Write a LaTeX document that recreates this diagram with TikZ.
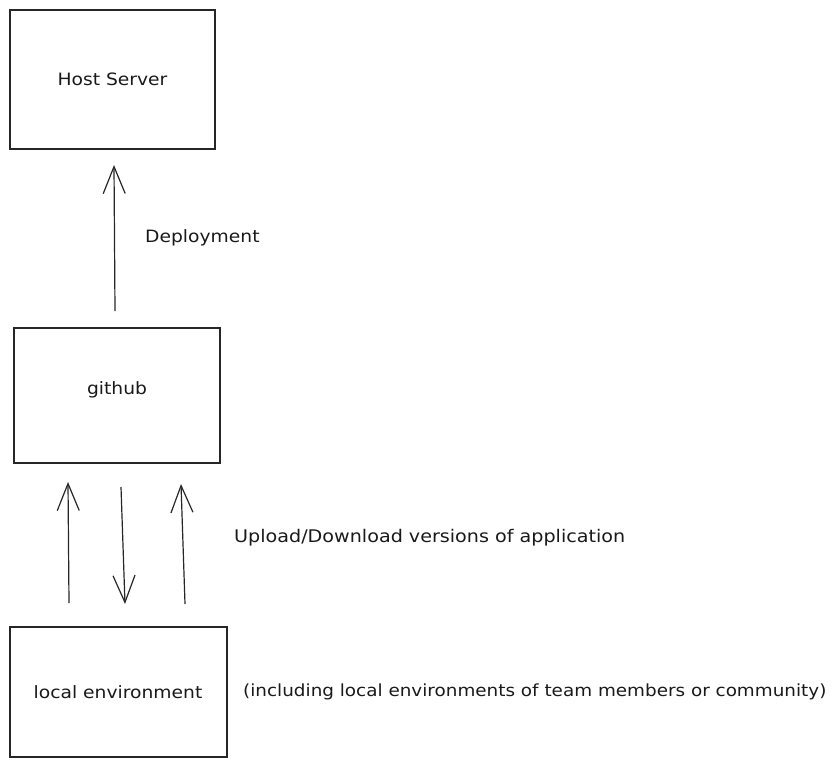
\documentclass[tikz,border=0pt]{standalone}
\usepackage{fontspec}
\setmainfont{DejaVu Sans}[FakeStretch=1.1]
\usetikzlibrary{arrows.meta}
\begin{document}
\begin{tikzpicture}[x=1pt,y=-1pt,
  box/.style={draw=black!85, line width=1.4pt},
  conn/.style={draw=black!85, line width=1.2pt, -{Straight Barb[length=27pt,width=22pt,line width=1.2pt]}},
  lbl/.style={font=\fontsize{17}{20}\selectfont, text=black!90, anchor=west, inner sep=0pt}]
\useasboundingbox (0,0) rectangle (838,768);
% boxes
\draw[box] (10,10) rectangle (215,149);
\node[lbl, anchor=center] (host) at (112.5,79.5) {Host Server};
\draw[box] (14,328) rectangle (220,463);
\node[lbl, anchor=center] (gh) at (117,390) {github};
\draw[box] (10,627) rectangle (227,757);
\node[lbl, anchor=center] (loc) at (118,692) {local environment};
% arrow coordinates
\coordinate (d1) at (115,311);
\coordinate (d2) at (114,165);
\coordinate (a1s) at (69,603);
\coordinate (a1e) at (68,482);
\coordinate (a2s) at (121,487);
\coordinate (a2e) at (125,604);
\coordinate (a3s) at (185,604);
\coordinate (a3e) at (181,484);
\draw[conn] (d1) -- (d2);
\draw[conn] (a1s) -- (a1e);
\draw[conn] (a2s) -- (a2e);
\draw[conn] (a3s) -- (a3e);
% labels
\node[lbl] (dep) at (145,238) {Deployment};
\node[lbl, font=\fontsize{17.4}{20}\selectfont] (upl) at (234,538) {Upload/Download versions of application};
\node[lbl, font=\fontsize{16.7}{20}\selectfont] (inc) at (243,692) {(including local environments of team members or community)};
\end{tikzpicture}
\end{document}
